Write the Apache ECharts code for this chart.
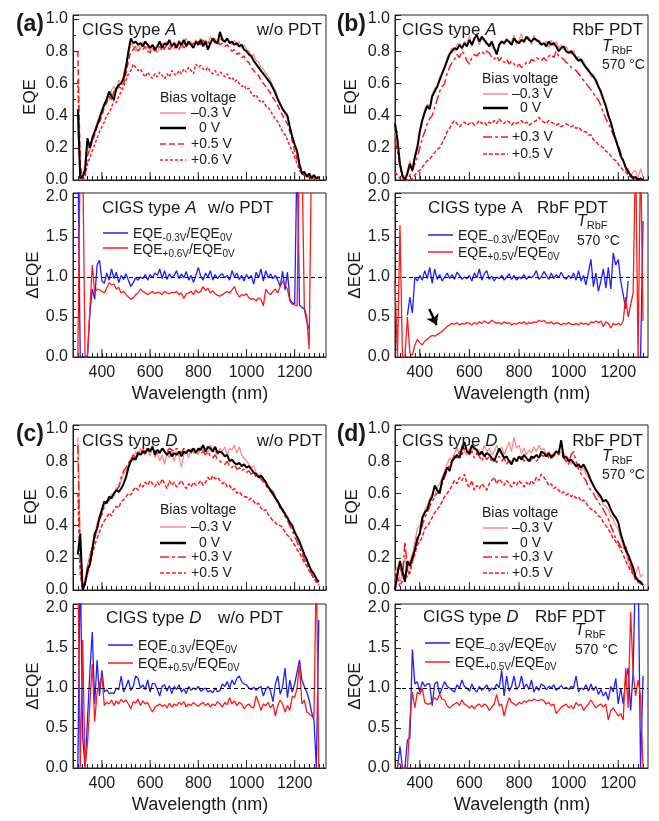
<!DOCTYPE html>
<html><head><meta charset="utf-8">
<script src="https://cdn.jsdelivr.net/npm/echarts@6/dist/echarts.min.js"></script>
<style>html,body{margin:0;padding:0;background:#fff}#c{width:659px;height:821px}</style>
</head><body><div id="c"></div>
<script>
// ---------------- DATA ----------------
const wavelength = [300,310,320,330,340,350,360,370,380,390,400,410,420,430,440,450,460,470,480,490,500,510,520,530,540,550,560,570,580,590,600,610,620,630,640,650,660,670,680,690,700,710,720,730,740,750,760,770,780,790,800,810,820,830,840,850,860,870,880,890,900,910,920,930,940,950,960,970,980,990,1000,1010,1020,1030,1040,1050,1060,1070,1080,1090,1100,1110,1120,1130,1140,1150,1160,1170,1180,1190,1200,1210,1220,1230,1240,1250,1260,1270,1280,1290,1300];
const majorTicks = [400,600,800,1000,1200];

// (a) CIGS type A, w/o PDT
const aEqeM03 = [0.35,0.00,0.03,0.10,0.22,0.18,0.25,0.30,0.36,0.40, 0.42,0.46,0.52,0.50,0.56,0.58,0.55,0.62,0.60,0.66, 0.72,0.78,0.85,0.83,0.80,0.84,0.82,0.86,0.81,0.83, 0.80,0.84,0.82,0.79,0.83,0.85,0.81,0.86,0.83,0.82, 0.86,0.83,0.87,0.82,0.85,0.88,0.84,0.86,0.83,0.87, 0.85,0.88,0.84,0.87,0.85,0.89,0.86,0.88,0.84,0.87, 0.89,0.85,0.88,0.86,0.84,0.87,0.83,0.86,0.82,0.84, 0.81,0.80,0.77,0.78,0.74,0.73,0.70,0.69,0.66,0.64, 0.62,0.58,0.56,0.51,0.48,0.44,0.41,0.38,0.32,0.26, 0.22,0.16,0.09,0.05,0.03,0.04,0.02,0.03,0.01,0.02, 0.01];
const aEqe0 = [0.44,0.01,0.02,0.06,0.26,0.20,0.26,0.30,0.34,0.38, 0.43,0.47,0.50,0.55,0.52,0.50,0.57,0.59,0.60,0.63, 0.70,0.80,0.88,0.85,0.86,0.84,0.85,0.83,0.86,0.84, 0.82,0.84,0.81,0.83,0.86,0.82,0.85,0.84,0.87,0.83, 0.85,0.82,0.86,0.84,0.87,0.83,0.86,0.84,0.82,0.86, 0.84,0.87,0.83,0.86,0.81,0.85,0.88,0.86,0.85,0.92, 0.87,0.86,0.88,0.85,0.86,0.84,0.85,0.83,0.84,0.81, 0.80,0.78,0.77,0.74,0.72,0.70,0.68,0.66,0.64,0.62, 0.60,0.57,0.54,0.50,0.47,0.44,0.42,0.40,0.33,0.27, 0.22,0.18,0.10,0.04,0.05,0.02,0.04,0.01,0.03,0.01, 0.02];
const aEqeP05 = [0.80,0.10,0.00,0.04,0.15,0.20,0.24,0.28,0.33,0.36, 0.40,0.45,0.48,0.52,0.50,0.55,0.56,0.58,0.57,0.60, 0.66,0.74,0.80,0.81,0.83,0.80,0.82,0.81,0.83,0.80, 0.79,0.82,0.80,0.81,0.83,0.80,0.82,0.84,0.81,0.83, 0.82,0.84,0.81,0.85,0.82,0.84,0.86,0.83,0.85,0.84, 0.86,0.84,0.87,0.85,0.86,0.84,0.87,0.85,0.86,0.84, 0.85,0.83,0.84,0.82,0.80,0.81,0.78,0.79,0.76,0.77, 0.74,0.73,0.70,0.68,0.66,0.65,0.62,0.60,0.58,0.56, 0.54,0.51,0.49,0.46,0.43,0.40,0.37,0.35,0.30,0.24, 0.18,0.13,0.08,0.04,0.03,0.02,0.03,0.01,0.02,0.01, 0.01];
const aEqeP06 = [0.62,0.05,0.00,0.02,0.10,0.14,0.18,0.22,0.26,0.30, 0.33,0.36,0.40,0.42,0.45,0.50,0.48,0.52,0.55,0.58, 0.62,0.66,0.68,0.72,0.70,0.68,0.69,0.66,0.64,0.67, 0.65,0.63,0.66,0.64,0.67,0.65,0.63,0.66,0.64,0.68, 0.66,0.65,0.68,0.66,0.69,0.67,0.70,0.68,0.66,0.72, 0.70,0.71,0.69,0.68,0.70,0.67,0.66,0.68,0.65,0.67, 0.66,0.64,0.66,0.63,0.64,0.61,0.62,0.60,0.58,0.59, 0.56,0.57,0.54,0.52,0.53,0.50,0.48,0.49,0.46,0.45, 0.43,0.40,0.38,0.36,0.33,0.30,0.28,0.25,0.21,0.18, 0.14,0.10,0.06,0.04,0.03,0.02,0.02,0.01,0.02,0.01, 0.01];
const aRatioM03 = [2.6,0.0,0.0,0.0,0.0,0.55,0.85,0.72,1.15,1.21, 0.95,0.92,1.05,0.96,1.10,0.98,1.06,0.93,1.02,0.97, 1.04,0.96,0.88,0.93,0.99,0.96,1.00,0.98,1.03,0.96, 1.03,0.99,1.05,1.02,1.10,0.98,1.08,0.97,1.04,0.99, 1.02,1.08,0.98,1.04,0.99,1.07,0.96,1.02,0.93,1.02, 1.12,1.01,0.96,1.05,1.00,1.08,0.96,1.03,0.98,1.02, 1.04,0.99,1.02,0.96,1.08,1.00,1.05,0.97,1.02,0.95, 1.03,0.98,1.02,0.91,1.06,0.99,1.10,0.95,1.08,0.99, 1.04,0.98,1.02,0.96,0.88,1.07,0.84,1.06,0.72,0.68, 0.66,2.6,0.65,0.62,0.60,0.45,0.35,null,null,null, null];
const aRatioP06 = [0.0,2.6,2.6,0.0,0.02,0.6,1.15,0.80,0.85,0.84, 0.82,0.80,0.86,0.93,0.90,0.91,0.85,0.87,0.80,0.82, 0.78,0.75,0.72,0.74,0.78,0.80,0.85,0.82,0.80,0.78, 0.80,0.82,0.79,0.81,0.80,0.78,0.82,0.80,0.79,0.81, 0.80,0.82,0.78,0.80,0.73,0.79,0.80,0.82,0.78,0.84, 0.80,0.82,0.88,0.83,0.86,0.80,0.83,0.79,0.77,0.76, 0.78,0.80,0.82,0.80,0.84,0.88,0.80,0.75,0.78,0.77, 0.79,0.74,0.72,0.73,0.70,0.74,0.72,0.64,0.85,0.80, 0.78,0.82,0.85,0.80,0.88,0.95,0.90,0.85,0.70,0.66, 0.65,0.64,2.6,2.6,0.62,0.5,0.1,2.6,2.6,null, null];

// (b) CIGS type A, RbF PDT
const bEqeM03 = [0.30,0.22,0.08,0.02,0.00,0.06,0.12,0.05,0.16,0.22, 0.32,0.38,0.44,0.47,0.46,0.53,0.57,0.58,0.64,0.67, 0.70,0.76,0.79,0.82,0.80,0.84,0.85,0.81,0.86,0.84, 0.90,0.83,0.87,0.91,0.84,0.88,0.86,0.84,0.85,0.83, 0.81,0.80,0.83,0.87,0.84,0.88,0.85,0.86,0.90,0.84, 0.87,0.91,0.85,0.88,0.89,0.84,0.90,0.86,0.87,0.85, 0.84,0.86,0.82,0.87,0.83,0.86,0.82,0.84,0.81,0.83, 0.80,0.78,0.81,0.75,0.77,0.73,0.74,0.70,0.69,0.64, 0.66,0.60,0.59,0.53,0.52,0.45,0.42,0.35,0.31,0.24, 0.21,0.14,0.13,0.06,0.07,0.02,0.05,0.06,0.01,0.07, 0.02];
const bEqe0 = [0.35,0.25,0.10,0.03,0.00,0.04,0.10,0.06,0.14,0.20, 0.30,0.37,0.42,0.46,0.44,0.52,0.55,0.58,0.62,0.66, 0.70,0.74,0.78,0.80,0.82,0.81,0.84,0.82,0.85,0.83, 0.87,0.84,0.88,0.90,0.86,0.89,0.87,0.85,0.83,0.86, 0.82,0.78,0.84,0.86,0.85,0.87,0.86,0.84,0.88,0.86, 0.85,0.87,0.86,0.89,0.87,0.86,0.88,0.87,0.86,0.84, 0.85,0.83,0.86,0.84,0.85,0.83,0.80,0.82,0.83,0.80, 0.79,0.80,0.78,0.76,0.74,0.75,0.72,0.70,0.68,0.66, 0.64,0.62,0.58,0.55,0.50,0.46,0.40,0.36,0.30,0.25, 0.20,0.15,0.12,0.08,0.05,0.03,0.01,0.02,0.00,0.01, 0.00];
const bEqeP03 = [0.25,0.18,0.08,0.02,0.00,0.00,0.03,0.06,0.10,0.14, 0.20,0.26,0.30,0.35,0.38,0.40,0.45,0.50,0.55,0.58, 0.60,0.66,0.70,0.73,0.75,0.78,0.76,0.80,0.78,0.74, 0.72,0.76,0.78,0.77,0.79,0.80,0.78,0.80,0.79,0.76, 0.75,0.77,0.74,0.76,0.73,0.75,0.72,0.74,0.72,0.70, 0.72,0.70,0.71,0.73,0.72,0.75,0.74,0.76,0.75,0.74, 0.76,0.74,0.77,0.78,0.76,0.80,0.77,0.76,0.75,0.73, 0.72,0.70,0.69,0.68,0.66,0.64,0.62,0.60,0.58,0.56, 0.54,0.51,0.50,0.46,0.42,0.38,0.35,0.32,0.28,0.25, 0.22,0.17,0.12,0.08,0.05,0.03,0.02,0.01,0.00,0.00, 0.00];
const bEqeP05 = [0.05,0.03,0.01,0.00,0.00,0.00,0.00,0.01,0.03,0.05, 0.06,0.08,0.10,0.12,0.13,0.15,0.17,0.19,0.20,0.23, 0.26,0.30,0.32,0.35,0.37,0.35,0.33,0.35,0.36,0.34, 0.35,0.36,0.34,0.35,0.37,0.35,0.36,0.34,0.36,0.35, 0.37,0.35,0.38,0.36,0.35,0.37,0.36,0.34,0.36,0.35, 0.36,0.37,0.35,0.36,0.34,0.35,0.36,0.37,0.39,0.37, 0.36,0.35,0.37,0.36,0.35,0.34,0.35,0.33,0.34,0.35, 0.34,0.33,0.34,0.32,0.33,0.31,0.30,0.30,0.28,0.28, 0.25,0.24,0.22,0.21,0.20,0.18,0.17,0.15,0.13,0.12, 0.10,0.08,0.06,0.05,0.03,0.02,0.01,0.01,0.00,0.00, 0.00];
const bRatioM03 = [null,null,null,null,null,0.52,0.75,0.55,1.00,0.95, 1.02,0.96,1.08,0.98,1.12,0.92,1.10,0.97,1.03,0.95, 1.00,1.05,0.98,1.03,0.97,1.06,1.02,0.97,1.00,0.98, 1.02,0.95,1.05,0.99,1.10,0.96,1.04,1.08,0.97,1.01, 0.95,1.00,0.98,1.02,0.96,1.00,1.04,0.97,1.02,0.96, 1.00,0.98,1.03,0.97,1.01,0.99,1.02,1.08,0.97,1.00, 1.07,1.02,0.97,1.05,0.98,1.03,0.99,1.06,1.00,0.97, 1.02,0.98,1.05,0.96,1.08,0.95,1.02,0.90,1.06,1.22, 0.88,1.05,0.82,0.95,1.10,0.86,1.12,0.85,1.30,1.15, 1.22,0.95,0.78,0.60,0.95,null,null,null,null,0.0, 1.70];
const bRatioP05 = [0.95,0.0,1.65,0.0,0.0,0.50,0.05,0.02,0.15,0.22, 0.18,0.15,0.20,0.22,0.25,0.27,0.26,0.28,0.30,0.32, 0.35,0.38,0.40,0.42,0.41,0.43,0.40,0.42,0.41,0.43, 0.42,0.40,0.43,0.41,0.44,0.42,0.45,0.43,0.42,0.46, 0.44,0.42,0.43,0.41,0.44,0.42,0.43,0.40,0.42,0.41, 0.43,0.42,0.44,0.41,0.43,0.42,0.44,0.43,0.46,0.44, 0.46,0.43,0.42,0.44,0.41,0.43,0.42,0.40,0.42,0.41, 0.43,0.41,0.40,0.42,0.40,0.43,0.41,0.42,0.40,0.44, 0.43,0.45,0.43,0.45,0.38,0.44,0.42,0.36,0.42,0.40, 0.42,0.40,0.45,0.75,0.50,0.65,0.80,2.6,0.0,2.6, 0.45];

// (c) CIGS type D, w/o PDT
const cEqeM03 = [0.95,0.30,0.02,0.05,0.15,0.22,0.26,0.33,0.42,0.46, 0.48,0.52,0.56,0.55,0.60,0.58,0.63,0.64,0.68,0.72, 0.74,0.78,0.82,0.80,0.86,0.83,0.88,0.85,0.84,0.87, 0.83,0.90,0.82,0.86,0.80,0.84,0.78,0.85,0.82,0.87, 0.80,0.86,0.83,0.76,0.84,0.86,0.82,0.88,0.85,0.87, 0.84,0.89,0.86,0.88,0.85,0.90,0.87,0.86,0.84,0.88, 0.86,0.89,0.84,0.88,0.87,0.90,0.85,0.89,0.84,0.82, 0.80,0.78,0.76,0.77,0.73,0.71,0.72,0.68,0.66,0.65, 0.61,0.62,0.58,0.55,0.53,0.49,0.48,0.44,0.41,0.39, 0.35,0.34,0.29,0.25,0.23,0.18,0.16,0.11,0.10,0.06, 0.04];
const cEqe0 = [0.22,0.35,0.00,0.04,0.12,0.16,0.25,0.35,0.38,0.45, 0.50,0.55,0.54,0.58,0.57,0.60,0.62,0.61,0.63,0.66, 0.70,0.76,0.80,0.82,0.81,0.85,0.84,0.86,0.85,0.88, 0.86,0.89,0.84,0.87,0.85,0.88,0.86,0.84,0.86,0.83, 0.85,0.84,0.86,0.83,0.86,0.85,0.87,0.86,0.88,0.85, 0.88,0.87,0.90,0.86,0.89,0.88,0.86,0.89,0.85,0.86, 0.85,0.83,0.84,0.80,0.81,0.79,0.78,0.79,0.77,0.78, 0.76,0.77,0.75,0.73,0.72,0.70,0.71,0.69,0.67,0.64, 0.62,0.60,0.57,0.55,0.52,0.50,0.47,0.45,0.42,0.40, 0.36,0.33,0.30,0.26,0.22,0.19,0.15,0.12,0.10,0.07, 0.05];
const cEqeP03 = [0.90,0.15,0.00,0.06,0.14,0.20,0.27,0.32,0.38,0.44, 0.47,0.52,0.55,0.56,0.58,0.60,0.62,0.64,0.70,0.74, 0.76,0.79,0.81,0.84,0.82,0.86,0.85,0.87,0.86,0.88, 0.87,0.88,0.86,0.87,0.86,0.88,0.87,0.86,0.88,0.87, 0.86,0.88,0.87,0.85,0.88,0.86,0.87,0.85,0.88,0.86, 0.87,0.85,0.86,0.84,0.86,0.83,0.82,0.84,0.81,0.80, 0.79,0.78,0.80,0.77,0.76,0.78,0.75,0.76,0.74,0.75, 0.73,0.74,0.72,0.73,0.70,0.71,0.69,0.67,0.65,0.63, 0.61,0.59,0.57,0.54,0.51,0.49,0.46,0.43,0.40,0.37, 0.33,0.30,0.26,0.23,0.19,0.16,0.13,0.10,0.07,0.05, 0.03];
const cEqeP05 = [0.60,0.10,0.00,0.04,0.10,0.16,0.22,0.28,0.32,0.36, 0.40,0.43,0.45,0.48,0.46,0.50,0.52,0.51,0.55,0.56, 0.58,0.60,0.59,0.62,0.64,0.62,0.66,0.64,0.67,0.65, 0.68,0.66,0.64,0.67,0.65,0.69,0.66,0.63,0.68,0.65, 0.67,0.64,0.66,0.68,0.65,0.63,0.66,0.64,0.67,0.65, 0.66,0.68,0.65,0.67,0.70,0.68,0.71,0.69,0.70,0.68, 0.66,0.67,0.64,0.65,0.62,0.63,0.60,0.61,0.59,0.58, 0.58,0.56,0.57,0.55,0.53,0.54,0.51,0.49,0.50,0.47, 0.45,0.43,0.42,0.40,0.40,0.39,0.36,0.34,0.33,0.30, 0.28,0.25,0.23,0.20,0.17,0.15,0.12,0.10,0.07,0.05, 0.03];
const cRatioM03 = [0.0,2.6,0.40,0.0,0.6,1.2,1.70,0.80,1.35,0.90, 1.22,0.95,0.98,0.93,0.94,0.93,1.00,0.98,1.15,0.95, 1.02,1.10,0.97,1.02,1.15,1.12,1.00,1.04,0.98,1.10, 0.95,1.06,1.05,0.98,0.90,1.02,1.04,0.96,1.03,0.93, 1.02,0.98,1.04,0.95,0.99,0.93,1.02,0.97,1.00,0.98, 1.02,0.96,0.98,1.00,0.95,0.97,0.94,1.00,0.95,0.97, 1.05,1.02,1.08,1.00,1.10,1.04,1.12,1.15,1.08,1.05, 1.04,1.00,0.98,1.01,0.97,1.00,1.02,0.90,0.98,1.02, 0.96,0.83,1.05,1.15,0.92,1.02,1.25,0.88,1.10,0.95, 1.05,1.20,1.35,1.10,1.02,0.95,0.85,0.70,0.60,0.0, 1.85];
const cRatioP05 = [2.6,0.0,1.6,0.0,0.3,0.8,1.30,0.58,0.95,1.05, 1.15,0.78,0.82,0.80,0.85,0.78,0.84,0.80,0.86,0.82, 0.85,0.80,0.74,0.83,0.81,0.86,0.78,0.84,0.80,0.82, 0.75,0.70,0.76,0.78,0.80,0.77,0.79,0.75,0.81,0.76, 0.80,0.78,0.82,0.79,0.83,0.76,0.80,0.78,0.82,0.79, 0.77,0.80,0.82,0.78,0.81,0.76,0.80,0.78,0.83,0.80, 0.76,0.82,0.79,0.88,0.80,0.84,0.78,0.82,0.80,0.74, 0.78,0.80,0.76,0.75,0.90,0.82,0.72,0.80,0.78,0.82, 0.75,0.80,0.65,0.78,0.85,0.80,0.70,0.78,0.72,0.90, 0.88,1.00,1.30,0.80,0.85,0.70,0.68,0.65,0.62,2.6, 0.0];

// (d) CIGS type D, RbF PDT
const dEqeM03 = [0.10,0.15,0.05,0.10,0.20,0.12,0.18,0.22,0.30,0.38, 0.40,0.42,0.50,0.52,0.57,0.60,0.58,0.64,0.66,0.70, 0.74,0.78,0.82,0.80,0.85,0.88,0.84,0.90,0.86,0.84, 0.88,0.86,0.90,0.85,0.87,0.84,0.90,0.86,0.88,0.84, 0.86,0.90,0.85,0.89,0.84,0.88,0.92,0.86,0.95,0.88, 0.90,0.85,0.88,0.84,0.87,0.85,0.89,0.86,0.90,0.87, 0.88,0.84,0.86,0.83,0.85,0.87,0.84,0.86,0.85,0.80, 0.82,0.78,0.80,0.76,0.77,0.74,0.76,0.72,0.70,0.67, 0.64,0.62,0.58,0.57,0.53,0.52,0.50,0.46,0.44,0.40, 0.38,0.32,0.28,0.24,0.18,0.16,0.12,0.10,0.15,0.08, 0.10];
const dEqe0 = [0.00,0.10,0.18,0.12,0.05,0.18,0.15,0.20,0.25,0.32, 0.35,0.45,0.48,0.50,0.55,0.58,0.65,0.62,0.60,0.68, 0.72,0.76,0.74,0.80,0.82,0.84,0.82,0.88,0.92,0.86, 0.85,0.90,0.88,0.87,0.84,0.86,0.83,0.85,0.84,0.82, 0.80,0.84,0.88,0.85,0.82,0.83,0.80,0.78,0.82,0.80, 0.83,0.81,0.84,0.82,0.80,0.83,0.82,0.84,0.82,0.86, 0.85,0.83,0.85,0.82,0.84,0.86,0.85,0.93,0.82,0.83, 0.80,0.81,0.79,0.77,0.78,0.76,0.78,0.75,0.72,0.68, 0.65,0.62,0.60,0.58,0.55,0.56,0.54,0.50,0.47,0.45, 0.42,0.35,0.30,0.25,0.22,0.18,0.14,0.08,0.06,0.05, 0.03];
const dEqeP03 = [0.05,0.12,0.15,0.08,0.30,0.12,0.10,0.18,0.24,0.30, 0.35,0.40,0.45,0.48,0.52,0.55,0.58,0.60,0.62,0.66, 0.70,0.74,0.78,0.80,0.84,0.82,0.86,0.84,0.88,0.86, 0.84,0.86,0.82,0.85,0.83,0.80,0.84,0.81,0.83,0.80, 0.82,0.79,0.83,0.80,0.82,0.78,0.81,0.79,0.82,0.80, 0.81,0.83,0.80,0.82,0.79,0.81,0.83,0.80,0.82,0.84, 0.83,0.85,0.82,0.84,0.83,0.86,0.84,0.85,0.82,0.80, 0.78,0.84,0.86,0.80,0.75,0.72,0.70,0.68,0.64,0.62, 0.60,0.57,0.55,0.52,0.50,0.47,0.44,0.40,0.36,0.32, 0.30,0.27,0.25,0.28,0.20,0.15,0.10,0.07,0.05,0.04, 0.03];
const dEqeP05 = [0.05,0.08,0.02,0.06,0.10,0.08,0.12,0.18,0.22,0.28, 0.30,0.33,0.38,0.40,0.42,0.45,0.48,0.50,0.52,0.55, 0.58,0.60,0.62,0.65,0.68,0.66,0.70,0.68,0.72,0.66, 0.64,0.68,0.62,0.65,0.63,0.66,0.64,0.62,0.66,0.68, 0.70,0.66,0.69,0.67,0.65,0.68,0.66,0.64,0.67,0.65, 0.68,0.66,0.64,0.67,0.65,0.68,0.66,0.70,0.68,0.72, 0.70,0.68,0.65,0.66,0.63,0.64,0.62,0.60,0.61,0.59, 0.60,0.58,0.59,0.57,0.58,0.55,0.56,0.54,0.52,0.50, 0.50,0.48,0.46,0.45,0.42,0.40,0.38,0.35,0.32,0.30, 0.28,0.25,0.22,0.18,0.15,0.12,0.10,0.06,0.05,0.04, 0.03];
const dRatioM03 = [null,0.0,0.27,0.0,0.0,0.35,0.37,1.48,1.05,1.08, 0.95,1.08,1.02,1.05,1.05,0.78,1.05,1.08,0.92,1.00, 1.08,1.02,1.00,0.97,0.95,1.04,1.00,1.10,1.02,1.00, 0.96,1.05,0.98,0.95,1.02,0.97,1.00,1.04,0.96,1.00, 0.98,1.05,1.00,1.22,0.90,1.15,0.96,1.02,1.15,0.98, 1.02,1.15,1.00,1.05,0.98,1.10,0.95,1.02,0.97,1.05, 1.03,0.98,1.02,1.00,1.04,0.97,1.00,1.03,0.99,1.01, 0.98,1.02,1.00,1.15,0.95,1.00,0.98,1.04,0.96,1.05, 0.97,1.02,0.92,0.98,0.90,0.95,0.85,1.02,0.95,1.12, 0.80,1.00,0.80,1.10,1.25,0.72,1.20,2.6,2.6,0.0, 1.15];
const dRatioP05 = [null,0.05,0.05,0.0,0.0,0.0,0.60,0.95,0.75,0.95, 0.92,1.00,0.82,0.80,0.80,0.84,0.88,0.85,0.92,0.86, 0.85,0.78,0.75,0.78,0.80,0.82,0.78,0.85,0.80,0.78, 0.75,0.78,0.74,0.78,0.80,0.76,0.80,0.78,0.72,0.76, 0.80,0.92,0.78,0.80,0.65,0.78,0.88,0.82,0.80,0.78, 0.82,0.80,0.84,0.82,0.85,0.84,0.86,0.85,0.84,0.86, 0.84,0.80,0.82,0.78,0.80,0.68,0.72,0.76,0.78,0.80, 0.75,0.78,0.74,0.82,0.78,0.80,0.72,0.76,0.80,0.85, 0.80,0.75,0.78,0.80,0.76,0.80,0.60,0.72,0.75,0.70, 0.65,0.68,0.60,1.25,0.75,1.95,1.20,0.90,1.10,0.90, 0.0];

// ---------------- CHART ----------------
const FONT = '"Liberation Sans", Arial, sans-serif';
const INK = '#1a1a1a';
const PINK = '#ff8a8a', RED = '#ff1a1a', BLUE = '#1f1fff';

const gridBoxes = [
  {left:73, top:15, width:253, height:165},
  {left:73, top:193, width:253, height:164},
  {left:395, top:15, width:253, height:165},
  {left:395, top:193, width:253, height:164},
  {left:73, top:425, width:253, height:165},
  {left:73, top:604, width:253, height:164},
  {left:395, top:425, width:253, height:165},
  {left:395, top:604, width:253, height:164}
];
const xRangeAC = [280, 1330], xRangeBD = [300, 1320];
const xRanges = [xRangeAC, xRangeAC, xRangeBD, xRangeBD, xRangeAC, xRangeAC, xRangeBD, xRangeBD];

const grid = gridBoxes.map(b => Object.assign({show:true, borderColor:'#222', borderWidth:1, backgroundColor:'transparent', containLabel:false}, b));

const xAxis = gridBoxes.map((b, i) => ({
  type:'value', gridIndex:i, min:xRanges[i][0], max:xRanges[i][1], interval:20,
  axisLine:{show:true, onZero:false, lineStyle:{color:'#222', width:1}},
  axisTick:{show:true, inside:true, length:4, lineStyle:{color:'#222', width:1}},
  axisLabel:{show: i % 2 === 1, margin:8, fontSize:16, color:INK, fontFamily:FONT,
    showMaxLabel:false, formatter: v => (v % 200 === 0 ? String(v) : '')},
  splitLine:{show:false}
}));
const yAxis = gridBoxes.map((b, i) => {
  const bottom = i % 2 === 1;
  return {
    type:'value', gridIndex:i, min:0, max: bottom ? 2.05 : 1.025, interval: bottom ? 0.5 : 0.2,
    axisLine:{show:true, onZero:false, lineStyle:{color:'#222', width:1}},
    axisTick:{show:true, inside:true, length:6, lineStyle:{color:'#222'}},
    minorTick:{show:true, splitNumber: bottom ? 5 : 2, length:3, lineStyle:{color:'#222'}},
    axisLabel:{margin:5, fontSize:16, color:INK, fontFamily:FONT, showMaxLabel:false,
      formatter: v => v.toFixed(1)},
    splitLine:{show:false}
  };
});

function pairs(arr) { return wavelength.map((w, k) => [w, arr[k]]); }
function line(gi, data, color, width, type, z) {
  return {type:'line', xAxisIndex:gi, yAxisIndex:gi, data:pairs(data), symbol:'none', showSymbol:false,
    lineStyle:{color, width, type: type || 'solid'}, z: z || 2, animation:false, silent:true, clip:true};
}
const refLine = {silent:true, symbol:['none','none'], label:{show:false}, animation:false,
  lineStyle:{color:'#000', type:[4,3], width:1}, data:[{yAxis:1}]};

const DASH_A5 = [6,3], DOT = [3,2], DASHDOT = [9,3,3,3], DASH_B5 = [4,2];

const series = [];
// (a)
series.push(line(0, aEqeM03, PINK, 1.3, 'solid', 2));
series.push(line(0, aEqeP06, RED, 1.5, DOT, 3));
series.push(line(0, aEqeP05, RED, 1.5, DASH_A5, 4));
series.push(line(0, aEqe0, '#000', 2, 'solid', 5));
const aB = line(1, aRatioM03, BLUE, 1.3, 'solid', 3); aB.markLine = refLine; series.push(aB);
series.push(line(1, aRatioP06, RED, 1.3, 'solid', 4));
// (b)
series.push(line(2, bEqeM03, PINK, 1.3, 'solid', 2));
series.push(line(2, bEqeP05, RED, 1.5, DASH_B5, 3));
series.push(line(2, bEqeP03, RED, 1.5, DASHDOT, 4));
series.push(line(2, bEqe0, '#000', 2, 'solid', 5));
const bB = line(3, bRatioM03, BLUE, 1.3, 'solid', 3); bB.markLine = refLine; series.push(bB);
const bR = line(3, bRatioP05, RED, 1.3, 'solid', 4);
bR.markLine = {silent:true, animation:false, symbol:['none','arrow'], symbolSize:10, label:{show:false},
  lineStyle:{color:'#000', width:2.5, type:'solid'},
  data:[[{coord:[438, 0.60]}, {coord:[468, 0.40]}]]};
series.push(bR);
// (c)
series.push(line(4, cEqeM03, PINK, 1.3, 'solid', 2));
series.push(line(4, cEqeP05, RED, 1.5, DASH_B5, 3));
series.push(line(4, cEqeP03, RED, 1.5, DASHDOT, 4));
series.push(line(4, cEqe0, '#000', 2, 'solid', 5));
const cB = line(5, cRatioM03, BLUE, 1.3, 'solid', 3); cB.markLine = refLine; series.push(cB);
series.push(line(5, cRatioP05, RED, 1.3, 'solid', 4));
// (d)
series.push(line(6, dEqeM03, PINK, 1.3, 'solid', 2));
series.push(line(6, dEqeP05, RED, 1.5, DASH_B5, 3));
series.push(line(6, dEqeP03, RED, 1.5, DASHDOT, 4));
series.push(line(6, dEqe0, '#000', 2, 'solid', 5));
const dB = line(7, dRatioM03, BLUE, 1.3, 'solid', 3); dB.markLine = refLine; series.push(dB);
series.push(line(7, dRatioP05, RED, 1.3, 'solid', 4));

// long major ticks on the wavelength axes
for (let gi = 0; gi < 8; gi++) {
  series.push({
    type:'custom', xAxisIndex:gi, yAxisIndex:gi, silent:true, animation:false, z:10,
    data: majorTicks.map(v => [v, 0]), encode:{x:0, y:1},
    renderItem: (params, api) => {
      const p = api.coord([api.value(0), 0]);
      return {type:'line', shape:{x1:p[0], y1:p[1], x2:p[0], y2:p[1] - 8}, style:{stroke:'#222', lineWidth:1}};
    }
  });
}

// ---------------- TEXT / LEGENDS ----------------
const RICH17 = {
  n:{fontSize:17, fontFamily:FONT, fill:INK, color:INK},
  i:{fontSize:17, fontFamily:FONT, fill:INK, color:INK, fontStyle:'italic'}
};
const RICH_SUB = {
  n:{fontSize:14, fontFamily:FONT, fill:INK, color:INK, lineHeight:18, verticalAlign:'middle'},
  s:{fontSize:10, fontFamily:FONT, fill:INK, color:INK, lineHeight:10, verticalAlign:'bottom'}
};
const RICH_T = {
  i:{fontSize:16, fontFamily:FONT, fill:INK, color:INK, fontStyle:'italic', lineHeight:18, verticalAlign:'middle'},
  s:{fontSize:11, fontFamily:FONT, fill:INK, color:INK, lineHeight:11, verticalAlign:'bottom'}
};
function txt(x, y, text, o) {
  o = o || {};
  return {type:'text', x, y, rotation:o.rot || 0, z:100, silent:true,
    style:{text, fill:INK, fontSize:o.size || 17, fontFamily:FONT, fontWeight:o.bold ? 'bold' : 'normal',
      textAlign:o.align || 'left', textVerticalAlign:'middle', rich:o.rich}};
}
function seg(x1, y, x2, color, w, dash) {
  return {type:'line', z:100, silent:true, shape:{x1, y1:y, x2, y2:y},
    style:{stroke:color, lineWidth:w, lineDash:dash || null}};
}
const g = [];
// panel letters
g.push(txt(44, 25, '(a)', {size:23, bold:true, align:'right'}));
g.push(txt(366, 25, '(b)', {size:23, bold:true, align:'right'}));
g.push(txt(44, 435, '(c)', {size:23, bold:true, align:'right'}));
g.push(txt(366, 435, '(d)', {size:23, bold:true, align:'right'}));
// axis titles
[[30, 97, 'EQE'], [33, 275, 'ΔEQE'], [351, 97, 'EQE'], [355, 275, 'ΔEQE'],
 [31, 507, 'EQE'], [33, 686, 'ΔEQE'], [352, 507, 'EQE'], [355, 686, 'ΔEQE']].forEach(t =>
  g.push(txt(t[0], t[1], t[2], {rot:Math.PI / 2, align:'center', size:17})));
[[200, 394], [522, 394], [200, 805], [522, 805]].forEach(t =>
  g.push(txt(t[0], t[1], 'Wavelength (nm)', {align:'center', size:18})));

// (a) top
g.push(txt(82, 30, '{n|CIGS type }{i|A}', {rich:RICH17}));
g.push(txt(322, 30, 'w/o PDT', {align:'right'}));
g.push(txt(160, 98, 'Bias voltage', {size:14}));
g.push(seg(160, 113, 186, PINK, 1.5));
g.push(seg(160, 128, 186, '#000', 2.5));
g.push(seg(160, 144, 186, RED, 1.5, DASH_A5));
g.push(seg(160, 160, 186, RED, 1.5, DOT));
g.push(txt(191, 113, '–0.3 V', {size:14}));
g.push(txt(199, 128, '0 V', {size:14}));
g.push(txt(191, 144, '+0.5 V', {size:14}));
g.push(txt(191, 160, '+0.6 V', {size:14}));
// (a) bottom
g.push(txt(102, 208, '{n|CIGS type }{i|A}', {rich:RICH17}));
g.push(txt(208, 208, 'w/o PDT'));
g.push(seg(103, 233, 128, BLUE, 1.5));
g.push(seg(103, 248, 128, RED, 1.5));
g.push(txt(133, 234, '{n|EQE}{s|-0.3V}{n|/EQE}{s|0V}', {rich:RICH_SUB}));
g.push(txt(133, 250, '{n|EQE}{s|+0.6V}{n|/EQE}{s|0V}', {rich:RICH_SUB}));

// (b) top
g.push(txt(402, 30, '{n|CIGS type }{i|A}', {rich:RICH17}));
g.push(txt(643, 30, 'RbF PDT', {align:'right'}));
g.push(txt(602, 47, '{i|T}{s|RbF}', {rich:RICH_T}));
g.push(txt(602, 65, '570 °C', {size:14}));
g.push(txt(482, 79, 'Bias voltage', {size:14}));
g.push(seg(483, 94, 508, PINK, 1.5));
g.push(seg(483, 108, 508, '#000', 2.5));
g.push(seg(483, 137, 508, RED, 1.5, DASHDOT));
g.push(seg(483, 154, 508, RED, 1.5, DASH_B5));
g.push(txt(512, 94, '–0.3 V', {size:14}));
g.push(txt(520, 108, '0 V', {size:14}));
g.push(txt(512, 137, '+0.3 V', {size:14}));
g.push(txt(512, 154, '+0.5 V', {size:14}));
// (b) bottom
g.push(txt(428, 208, 'CIGS type A'));
g.push(txt(537, 208, 'RbF PDT'));
g.push(txt(577, 222, '{i|T}{s|RbF}', {rich:RICH_T}));
g.push(txt(577, 241, '570 °C', {size:14}));
g.push(seg(428, 235, 453, BLUE, 1.5));
g.push(seg(428, 252, 453, RED, 1.5));
g.push(txt(458, 236, '{n|EQE}{s|–0.3V}{n|/EQE}{s|0V}', {rich:RICH_SUB}));
g.push(txt(458, 253, '{n|EQE}{s|+0.5V}{n|/EQE}{s|0V}', {rich:RICH_SUB}));

// (c) top
g.push(txt(82, 441, '{n|CIGS type }{i|D}', {rich:RICH17}));
g.push(txt(322, 441, 'w/o PDT', {align:'right'}));
g.push(txt(160, 510, 'Bias voltage', {size:14}));
g.push(seg(160, 527, 186, PINK, 1.5));
g.push(seg(160, 543, 186, '#000', 2.5));
g.push(seg(160, 557, 186, RED, 1.5, DASHDOT));
g.push(seg(160, 573, 186, RED, 1.5, DASH_B5));
g.push(txt(191, 527, '–0.3 V', {size:14}));
g.push(txt(199, 543, '0 V', {size:14}));
g.push(txt(191, 557, '+0.3 V', {size:14}));
g.push(txt(191, 573, '+0.5 V', {size:14}));
// (c) bottom
g.push(txt(106, 618, '{n|CIGS type }{i|D}', {rich:RICH17}));
g.push(txt(218, 618, 'w/o PDT'));
g.push(seg(108, 645, 133, BLUE, 1.5));
g.push(seg(108, 663, 133, RED, 1.5));
g.push(txt(138, 646, '{n|EQE}{s|-0.3V}{n|/EQE}{s|0V}', {rich:RICH_SUB}));
g.push(txt(138, 664, '{n|EQE}{s|+0.5V}{n|/EQE}{s|0V}', {rich:RICH_SUB}));

// (d) top
g.push(txt(402, 441, '{n|CIGS type }{i|D}', {rich:RICH17}));
g.push(txt(643, 441, 'RbF PDT', {align:'right'}));
g.push(txt(602, 457, '{i|T}{s|RbF}', {rich:RICH_T}));
g.push(txt(602, 475, '570 °C', {size:14}));
g.push(txt(482, 513, 'Bias voltage', {size:14}));
g.push(seg(483, 528, 508, PINK, 1.5));
g.push(seg(483, 543, 508, '#000', 2.5));
g.push(seg(483, 557, 508, RED, 1.5, DASHDOT));
g.push(seg(483, 573, 508, RED, 1.5, DASH_B5));
g.push(txt(512, 528, '–0.3 V', {size:14}));
g.push(txt(520, 543, '0 V', {size:14}));
g.push(txt(512, 557, '+0.3 V', {size:14}));
g.push(txt(512, 573, '+0.5 V', {size:14}));
// (d) bottom
g.push(txt(423, 617, '{n|CIGS type }{i|D}', {rich:RICH17}));
g.push(txt(535, 617, 'RbF PDT'));
g.push(txt(575, 631, '{i|T}{s|RbF}', {rich:RICH_T}));
g.push(txt(575, 650, '570 °C', {size:14}));
g.push(seg(425, 643, 450, BLUE, 1.5));
g.push(seg(425, 662, 450, RED, 1.5));
g.push(txt(455, 644, '{n|EQE}{s|–0.3V}{n|/EQE}{s|0V}', {rich:RICH_SUB}));
g.push(txt(455, 663, '{n|EQE}{s|+0.5V}{n|/EQE}{s|0V}', {rich:RICH_SUB}));

const chart = echarts.init(document.getElementById('c'), null, {renderer:'canvas'});
chart.setOption({
  animation:false, backgroundColor:'#fff',
  textStyle:{fontFamily:FONT},
  grid, xAxis, yAxis, series, graphic:g
});
</script>
</body></html>
